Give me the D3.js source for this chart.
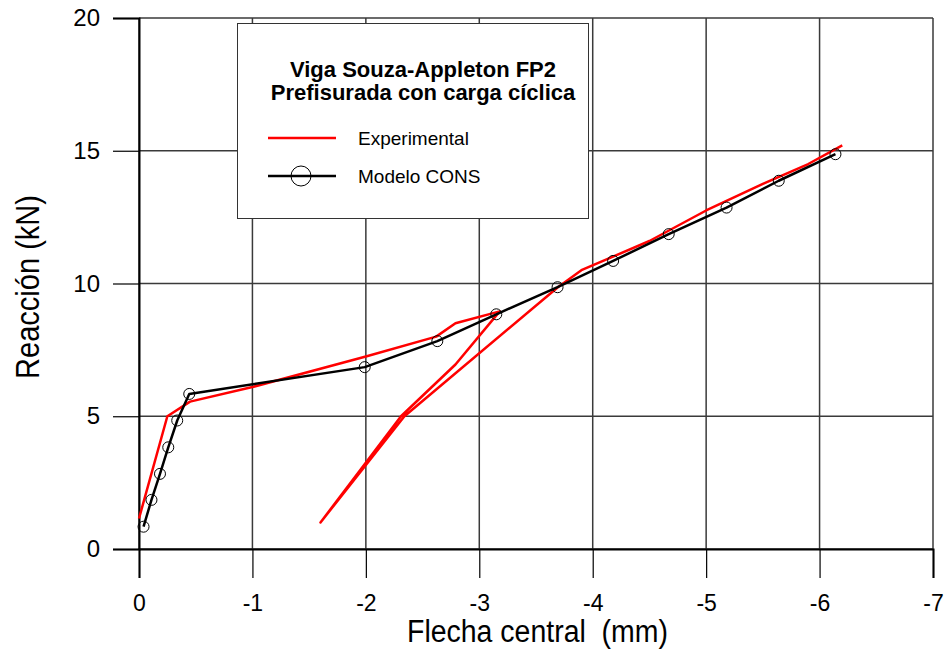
<!DOCTYPE html>
<html>
<head>
<meta charset="utf-8">
<script src="https://cdn.jsdelivr.net/npm/d3@7"></script>
<style>
  body { margin: 0; background: #fff; }
  text { font-family: "Liberation Sans", Arial, sans-serif; }
</style>
</head>
<body>
<div id="graphic"></div>
<script>
// Datos
let expX = [0, -0.25, -0.45, -1.0, -2.0, -2.62, -2.79, -3.18, -2.79, -2.31, -1.6, -2.34, -3.69, -3.9, -4.5, -5.0, -5.5, -5.9, -6.2];
let expY = [1.15, 5.0, 5.55, 6.1, 7.25, 8.0, 8.5, 8.95, 6.95, 5.0, 1.0, 5.0, 9.85, 10.5, 11.6, 12.75, 13.75, 14.5, 15.2];

let modX = [-0.04, -0.11, -0.185, -0.258, -0.337, -0.443, -1.99, -2.63, -3.15, -3.69, -4.18, -4.67, -5.18, -5.64, -6.14];
let modY = [0.84, 1.85, 2.83, 3.83, 4.84, 5.84, 6.85, 7.83, 8.84, 9.86, 10.85, 11.86, 12.86, 13.87, 14.87];

let xTicks = [0, -1, -2, -3, -4, -5, -6, -7];
let yTicks = [0, 5, 10, 15, 20];

let titulo = ["Viga Souza-Appleton FP2", "Prefisurada con carga cíclica"];
let leyenda = ["Experimental", "Modelo CONS"];

// Cadre
let cadre = d3.select("#graphic")
  .append("svg")
  .attr("width", 947)
  .attr("height", 655);

let x = d3.scaleLinear().domain([0, -7]).range([139, 933]);
let y = d3.scaleLinear().domain([0, 20]).range([549, 18]);

// Rejilla
cadre.append("g").selectAll("line.vg")
  .data(xTicks)
  .enter().append("line")
  .attr("x1", d => x(d)).attr("x2", d => x(d))
  .attr("y1", y(20)).attr("y2", y(0))
  .attr("stroke", "#3a3a3a").attr("stroke-width", 1.5);

cadre.append("g").selectAll("line.hg")
  .data(yTicks)
  .enter().append("line")
  .attr("x1", x(0)).attr("x2", x(-7))
  .attr("y1", d => y(d)).attr("y2", d => y(d))
  .attr("stroke", "#3a3a3a").attr("stroke-width", 1.5);

// Ejes
let xAxis = d3.axisBottom(x).tickValues(xTicks).tickSize(29).tickPadding(17);
let gx = cadre.append("g")
  .attr("transform", `translate(0, ${y(0)})`)
  .call(xAxis);
gx.select(".domain").attr("stroke", "#000").attr("stroke-width", 2);
gx.selectAll(".tick line").attr("stroke", "#000").attr("stroke-width", 1.2);
gx.selectAll(".tick text").attr("font-size", 23).attr("fill", "#000")
  .attr("font-family", "Liberation Sans, Arial, sans-serif")
  .text(d => d === 0 ? "0" : "-" + Math.abs(d));

let yAxis = d3.axisLeft(y).tickValues(yTicks).tickSize(26).tickPadding(13);
let gy = cadre.append("g")
  .attr("transform", `translate(${x(0)}, 0)`)
  .call(yAxis);
gy.select(".domain").attr("stroke", "#000").attr("stroke-width", 2);
gy.selectAll(".tick line").attr("stroke", "#000").attr("stroke-width", 1.2);
gy.selectAll(".tick text").attr("font-size", 24).attr("fill", "#000")
  .attr("font-family", "Liberation Sans, Arial, sans-serif");

// Títulos de ejes (letra estrecha y alta)
cadre.append("text")
  .attr("x", 407).attr("y", 642)
  .attr("font-size", 31)
  .attr("xml:space", "preserve")
  .attr("textLength", 261)
  .attr("lengthAdjust", "spacingAndGlyphs")
  .text("Flecha central  (mm)");

cadre.append("text")
  .attr("transform", "translate(38.5, 379) rotate(-90)")
  .attr("font-size", 34)
  .attr("textLength", 184)
  .attr("lengthAdjust", "spacingAndGlyphs")
  .text("Reacción (kN)");

// Curvas
let linea = d3.line().x(d => x(d[0])).y(d => y(d[1]));
let expData = d3.zip(expX, expY);
let modData = d3.zip(modX, modY);

cadre.append("path")
  .datum(expData)
  .attr("d", linea)
  .attr("fill", "none")
  .attr("stroke", "#ff0000")
  .attr("stroke-width", 2.5)
  .attr("stroke-linejoin", "round");

cadre.append("path")
  .datum(modData)
  .attr("d", linea)
  .attr("fill", "none")
  .attr("stroke", "#000")
  .attr("stroke-width", 2.5)
  .attr("stroke-linejoin", "round");

cadre.append("g").selectAll("circle")
  .data(modData)
  .enter().append("circle")
  .attr("cx", d => x(d[0]))
  .attr("cy", d => y(d[1]))
  .attr("r", 5.5)
  .attr("fill", "none")
  .attr("stroke", "#000")
  .attr("stroke-width", 1);

// Leyenda
let leg = cadre.append("g");
leg.append("rect")
  .attr("x", 237.5).attr("y", 23.5)
  .attr("width", 351).attr("height", 195)
  .attr("fill", "#fff")
  .attr("stroke", "#333").attr("stroke-width", 1);

leg.selectAll("text.tit")
  .data(titulo)
  .enter().append("text")
  .attr("x", 423)
  .attr("y", (d, i) => 77 + i * 23)
  .attr("text-anchor", "middle")
  .attr("font-size", 22)
  .attr("font-weight", "bold")
  .text(d => d);

leg.append("line")
  .attr("x1", 268).attr("x2", 336)
  .attr("y1", 138).attr("y2", 138)
  .attr("stroke", "#ff0000").attr("stroke-width", 2.5);
leg.append("line")
  .attr("x1", 268).attr("x2", 336)
  .attr("y1", 176).attr("y2", 176)
  .attr("stroke", "#000").attr("stroke-width", 2.5);
leg.append("circle")
  .attr("cx", 301).attr("cy", 176).attr("r", 10)
  .attr("fill", "none").attr("stroke", "#000").attr("stroke-width", 1);

leg.selectAll("text.it")
  .data(leyenda)
  .enter().append("text")
  .attr("x", 358)
  .attr("y", (d, i) => 145 + i * 38)
  .attr("font-size", 19)
  .text(d => d);
</script>
</body>
</html>
